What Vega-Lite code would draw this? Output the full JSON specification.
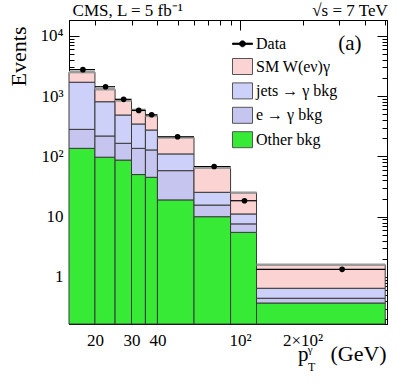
{
  "$schema": "https://vega.github.io/schema/vega-lite/v6.json",
  "width": 318,
  "height": 304,
  "autosize": {"type": "none"},
  "padding": {"left": 69, "top": 20, "right": 20, "bottom": 67},
  "background": "white",
  "config": {
    "view": {"stroke": null},
    "font": "Liberation Serif",
    "axis": {"domainColor": "black", "tickColor": "black", "labelColor": "black", "labelFont": "Liberation Serif", "titleFont": "Liberation Serif", "grid": false, "domainWidth": 1, "tickWidth": 1, "zindex": 1}
  },
  "datasets": {
    "mc": [
      {"lo": 15, "hi": 20, "component": "Other bkg", "order": 1, "events": 136},
      {"lo": 15, "hi": 20, "component": "e → γ bkg", "order": 2, "events": 145},
      {"lo": 15, "hi": 20, "component": "jets → γ bkg", "order": 3, "events": 1419},
      {"lo": 15, "hi": 20, "component": "SM W(eν)γ", "order": 4, "events": 800},
      {"lo": 20, "hi": 25, "component": "Other bkg", "order": 1, "events": 97},
      {"lo": 20, "hi": 25, "component": "e → γ bkg", "order": 2, "events": 121},
      {"lo": 20, "hi": 25, "component": "jets → γ bkg", "order": 3, "events": 589},
      {"lo": 20, "hi": 25, "component": "SM W(eν)γ", "order": 4, "events": 493},
      {"lo": 25, "hi": 30, "component": "Other bkg", "order": 1, "events": 87},
      {"lo": 25, "hi": 30, "component": "e → γ bkg", "order": 2, "events": 78},
      {"lo": 25, "hi": 30, "component": "jets → γ bkg", "order": 3, "events": 321},
      {"lo": 25, "hi": 30, "component": "SM W(eν)γ", "order": 4, "events": 359},
      {"lo": 30, "hi": 35, "component": "Other bkg", "order": 1, "events": 50},
      {"lo": 30, "hi": 35, "component": "e → γ bkg", "order": 2, "events": 86},
      {"lo": 30, "hi": 35, "component": "jets → γ bkg", "order": 3, "events": 209},
      {"lo": 30, "hi": 35, "component": "SM W(eν)γ", "order": 4, "events": 245},
      {"lo": 35, "hi": 40, "component": "Other bkg", "order": 1, "events": 45},
      {"lo": 35, "hi": 40, "component": "e → γ bkg", "order": 2, "events": 83},
      {"lo": 35, "hi": 40, "component": "jets → γ bkg", "order": 3, "events": 146},
      {"lo": 35, "hi": 40, "component": "SM W(eν)γ", "order": 4, "events": 196},
      {"lo": 40, "hi": 60, "component": "Other bkg", "order": 1, "events": 19},
      {"lo": 40, "hi": 60, "component": "e → γ bkg", "order": 2, "events": 39},
      {"lo": 40, "hi": 60, "component": "jets → γ bkg", "order": 3, "events": 52},
      {"lo": 40, "hi": 60, "component": "SM W(eν)γ", "order": 4, "events": 96},
      {"lo": 60, "hi": 90, "component": "Other bkg", "order": 1, "events": 10},
      {"lo": 60, "hi": 90, "component": "e → γ bkg", "order": 2, "events": 5.6},
      {"lo": 60, "hi": 90, "component": "jets → γ bkg", "order": 3, "events": 9.8},
      {"lo": 60, "hi": 90, "component": "SM W(eν)γ", "order": 4, "events": 39.6},
      {"lo": 90, "hi": 120, "component": "Other bkg", "order": 1, "events": 5.5},
      {"lo": 90, "hi": 120, "component": "e → γ bkg", "order": 2, "events": 2.1},
      {"lo": 90, "hi": 120, "component": "jets → γ bkg", "order": 3, "events": 3.5},
      {"lo": 90, "hi": 120, "component": "SM W(eν)γ", "order": 4, "events": 13.9},
      {"lo": 120, "hi": 500, "component": "Other bkg", "order": 1, "events": 0.37},
      {"lo": 120, "hi": 500, "component": "e → γ bkg", "order": 2, "events": 0.074},
      {"lo": 120, "hi": 500, "component": "jets → γ bkg", "order": 3, "events": 0.206},
      {"lo": 120, "hi": 500, "component": "SM W(eν)γ", "order": 4, "events": 0.95}
    ],
    "obs": [
      {"label": "Data", "lo": 15, "hi": 20, "pt": 17.5, "events": 2750},
      {"label": "Data", "lo": 20, "hi": 25, "pt": 22.5, "events": 1430},
      {"label": "Data", "lo": 25, "hi": 30, "pt": 27.5, "events": 885},
      {"label": "Data", "lo": 30, "hi": 35, "pt": 32.5, "events": 580},
      {"label": "Data", "lo": 35, "hi": 40, "pt": 37.5, "events": 490},
      {"label": "Data", "lo": 40, "hi": 60, "pt": 50, "events": 212},
      {"label": "Data", "lo": 60, "hi": 90, "pt": 75, "events": 68},
      {"label": "Data", "lo": 90, "hi": 120, "pt": 105, "events": 18.4},
      {"label": "Data", "lo": 120, "hi": 500, "pt": 310, "events": 1.34}
    ]
  },
  "layer": [
    {
      "data": {"name": "mc"},
      "transform": [
        {"stack": "events", "groupby": ["lo"], "sort": [{"field": "order", "order": "ascending"}], "as": ["s0", "s1"]},
        {"filter": "datum.order == 1"}
      ],
      "mark": {"type": "rect", "stroke": "#3a3a3a", "strokeWidth": 1},
      "encoding": {
        "x": {"field": "lo", "type": "quantitative", "scale": {"type": "log", "domain": [15, 510], "nice": false},
          "axis": {"orient": "bottom", "values": [20, 30, 40, 100, 200], "tickSize": -5, "labelFontSize": 17, "labelPadding": 13, "labelFlush": false, "labelOverlap": false, "title": null, "labelExpr": "datum.value == 100 ? '10²' : datum.value == 200 ? '2×10²' : format(datum.value, 'd')"}},
        "x2": {"field": "hi"},
        "y": {"field": "s1", "type": "quantitative", "scale": {"type": "log", "domain": [0.166, 18300], "nice": false},
          "axis": {"orient": "left", "values": [1, 10, 100, 1000, 10000], "tickSize": -10, "labelFontSize": 17, "labelPadding": 16, "labelFlush": false, "labelOverlap": false, "labelExpr": "datum.value == 100 ? '10²' : datum.value == 1000 ? '10³' : datum.value == 10000 ? '10⁴' : format(datum.value, 'd')",
            "title": "Events", "titleFontSize": 22, "titleFontWeight": "normal", "titleColor": "black", "titleAngle": 270, "titleAlign": "right", "titleAnchor": "end", "titleBaseline": "alphabetic", "titleX": -44, "titleY": 6}},
        "y2": {"datum": 0.166},
        "color": {"field": "component", "type": "nominal",
          "scale": {"domain": ["SM W(eν)γ", "jets → γ bkg", "e → γ bkg", "Other bkg"], "range": ["#fbd3d3", "#cdd0f8", "#c5c5ef", "#36ea36"]},
          "legend": {"orient": "none", "legendX": 163, "legendY": 36, "title": null, "symbolType": "M-1,-0.8H1V0.8H-1Z", "symbolSize": 400, "labelFontSize": 16, "labelFont": "Liberation Serif", "labelColor": "black", "rowPadding": 3.4, "labelOffset": 3, "padding": 0, "symbolStrokeColor": "#555555", "symbolStrokeWidth": 1,
            "encode": {"symbols": {"update": {"stroke": {"value": "#555555"}, "strokeWidth": {"value": 1}, "opacity": {"value": 1}}}}}}
      }
    },
    {
      "data": {"name": "mc"},
      "transform": [
        {"stack": "events", "groupby": ["lo"], "sort": [{"field": "order", "order": "ascending"}], "as": ["s0", "s1"]},
        {"filter": "datum.order == 2"}
      ],
      "mark": {"type": "rect", "stroke": "#3a3a3a", "strokeWidth": 1},
      "encoding": {
        "x": {"field": "lo", "type": "quantitative", "scale": {"type": "log", "domain": [15, 510], "nice": false},
          "axis": {"orient": "bottom", "values": [100], "tickSize": -10, "labels": false, "title": null}},
        "x2": {"field": "hi"},
        "y": {"field": "s1", "type": "quantitative", "scale": {"type": "log", "domain": [0.166, 18300], "nice": false},
          "axis": {"orient": "left", "values": [0.2, 0.3, 0.4, 0.5, 0.6, 0.7, 0.8, 0.9, 2, 3, 4, 5, 6, 7, 8, 9, 20, 30, 40, 50, 60, 70, 80, 90, 200, 300, 400, 500, 600, 700, 800, 900, 2000, 3000, 4000, 5000, 6000, 7000, 8000, 9000], "tickSize": -5, "labels": false, "title": null}},
        "y2": {"field": "s0"},
        "color": {"field": "component", "type": "nominal",
          "scale": {"domain": ["SM W(eν)γ", "jets → γ bkg", "e → γ bkg", "Other bkg"], "range": ["#fbd3d3", "#cdd0f8", "#c5c5ef", "#36ea36"]}}
      }
    },
    {
      "data": {"name": "mc"},
      "transform": [
        {"stack": "events", "groupby": ["lo"], "sort": [{"field": "order", "order": "ascending"}], "as": ["s0", "s1"]},
        {"filter": "datum.order == 3"}
      ],
      "mark": {"type": "rect", "stroke": "#3a3a3a", "strokeWidth": 1},
      "encoding": {
        "x": {"field": "lo", "type": "quantitative", "scale": {"type": "log", "domain": [15, 510], "nice": false},
          "axis": {"orient": "top", "values": [100], "tickSize": -10, "labels": false, "title": null}},
        "x2": {"field": "hi"},
        "y": {"field": "s1", "type": "quantitative", "scale": {"type": "log", "domain": [0.166, 18300], "nice": false},
          "axis": {"orient": "right", "values": [1, 10, 100, 1000, 10000], "tickSize": -10, "labels": false, "title": null}},
        "y2": {"field": "s0"},
        "color": {"field": "component", "type": "nominal",
          "scale": {"domain": ["SM W(eν)γ", "jets → γ bkg", "e → γ bkg", "Other bkg"], "range": ["#fbd3d3", "#cdd0f8", "#c5c5ef", "#36ea36"]}}
      }
    },
    {
      "data": {"name": "mc"},
      "transform": [
        {"stack": "events", "groupby": ["lo"], "sort": [{"field": "order", "order": "ascending"}], "as": ["s0", "s1"]},
        {"filter": "datum.order == 4"}
      ],
      "mark": {"type": "rect", "stroke": "#3a3a3a", "strokeWidth": 1},
      "encoding": {
        "x": {"field": "lo", "type": "quantitative", "scale": {"type": "log", "domain": [15, 510], "nice": false},
          "axis": {"orient": "top", "values": [20, 30, 40, 50, 60, 70, 80, 90, 200, 300, 400, 500], "tickSize": -5, "labels": false, "title": null}},
        "x2": {"field": "hi"},
        "y": {"field": "s1", "type": "quantitative", "scale": {"type": "log", "domain": [0.166, 18300], "nice": false},
          "axis": {"orient": "right", "values": [0.2, 0.3, 0.4, 0.5, 0.6, 0.7, 0.8, 0.9, 2, 3, 4, 5, 6, 7, 8, 9, 20, 30, 40, 50, 60, 70, 80, 90, 200, 300, 400, 500, 600, 700, 800, 900, 2000, 3000, 4000, 5000, 6000, 7000, 8000, 9000], "tickSize": -5, "labels": false, "title": null}},
        "y2": {"field": "s0"},
        "color": {"field": "component", "type": "nominal",
          "scale": {"domain": ["SM W(eν)γ", "jets → γ bkg", "e → γ bkg", "Other bkg"], "range": ["#fbd3d3", "#cdd0f8", "#c5c5ef", "#36ea36"]}}
      }
    },
    {
      "data": {"name": "mc"},
      "transform": [
        {"stack": "events", "groupby": ["lo"], "sort": [{"field": "order", "order": "ascending"}], "as": ["s0", "s1"]},
        {"filter": "datum.order == 4"}
      ],
      "mark": {"type": "rule", "stroke": "#9a9a9a", "strokeWidth": 2.5},
      "encoding": {
        "x": {"field": "lo", "type": "quantitative", "scale": {"type": "log", "domain": [15, 510], "nice": false},
          "axis": {"orient": "bottom", "values": [20, 30, 40, 50, 60, 70, 80, 90, 200, 300, 400, 500], "tickSize": -5, "labels": false, "title": null}},
        "x2": {"field": "hi"},
        "y": {"field": "s1", "type": "quantitative", "scale": {"type": "log", "domain": [0.166, 18300], "nice": false}, "axis": null}
      }
    },
    {
      "data": {"name": "obs"},
      "mark": {"type": "rule", "stroke": "black", "strokeWidth": 1.2},
      "encoding": {
        "x": {"field": "lo", "type": "quantitative", "scale": {"type": "log", "domain": [15, 510], "nice": false}, "axis": null},
        "x2": {"field": "hi"},
        "y": {"field": "events", "type": "quantitative", "scale": {"type": "log", "domain": [0.166, 18300], "nice": false}, "axis": null}
      }
    },
    {
      "data": {"name": "obs"},
      "mark": {"type": "point", "filled": true, "size": 32, "opacity": 1, "shape": "circle"},
      "encoding": {
        "x": {"field": "pt", "type": "quantitative", "scale": {"type": "log", "domain": [15, 510], "nice": false}, "axis": null},
        "y": {"field": "events", "type": "quantitative", "scale": {"type": "log", "domain": [0.166, 18300], "nice": false}, "axis": null},
        "fill": {"field": "label", "type": "nominal", "scale": {"domain": ["Data"], "range": ["black"]},
          "legend": {"orient": "none", "legendX": 163, "legendY": 13.3, "title": null, "symbolType": "M-1,-0.07H1V0.07H-1Z M-0.3,0A0.3,0.3,0,1,1,0.3,0A0.3,0.3,0,1,1,-0.3,0Z", "symbolSize": 400, "labelFontSize": 16, "labelFont": "Liberation Serif", "labelColor": "black", "labelOffset": 3, "padding": 0, "symbolStrokeColor": "black", "symbolStrokeWidth": 0.8,
            "encode": {"symbols": {"update": {"stroke": {"value": "black"}, "strokeWidth": {"value": 0.8}, "fill": {"value": "black"}, "opacity": {"value": 1}}}}}}
      }
    },
    {
      "data": {"values": [{}]},
      "mark": {"type": "text", "text": "CMS, L = 5 fb⁻¹", "align": "left", "baseline": "alphabetic", "fontSize": 17, "font": "Liberation Serif", "color": "black"},
      "encoding": {
        "x": {"datum": 15.6, "type": "quantitative", "scale": {"type": "log", "domain": [15, 510], "nice": false}, "axis": null},
        "y": {"datum": 21300, "type": "quantitative", "scale": {"type": "log", "domain": [0.166, 18300], "nice": false}, "axis": null}
      }
    },
    {
      "data": {"values": [{}]},
      "mark": {"type": "text", "text": "√s = 7 TeV", "align": "right", "baseline": "alphabetic", "fontSize": 17, "font": "Liberation Serif", "color": "black"},
      "encoding": {
        "x": {"datum": 514, "type": "quantitative", "scale": {"type": "log", "domain": [15, 510], "nice": false}, "axis": null},
        "y": {"datum": 21300, "type": "quantitative", "scale": {"type": "log", "domain": [0.166, 18300], "nice": false}, "axis": null}
      }
    },
    {
      "data": {"values": [{}]},
      "mark": {"type": "text", "text": "(a)", "align": "center", "baseline": "alphabetic", "fontSize": 21, "font": "Liberation Serif", "color": "black"},
      "encoding": {
        "x": {"datum": 338, "type": "quantitative", "scale": {"type": "log", "domain": [15, 510], "nice": false}, "axis": null},
        "y": {"datum": 5890, "type": "quantitative", "scale": {"type": "log", "domain": [0.166, 18300], "nice": false}, "axis": null}
      }
    },
    {
      "data": {"values": [{}]},
      "mark": {"type": "text", "text": "p", "align": "left", "baseline": "alphabetic", "fontSize": 21, "font": "Liberation Serif", "color": "black"},
      "encoding": {
        "x": {"datum": 190, "type": "quantitative", "scale": {"type": "log", "domain": [15, 510], "nice": false}, "axis": null},
        "y": {"datum": 0.0398, "type": "quantitative", "scale": {"type": "log", "domain": [0.166, 18300], "nice": false}, "axis": null}
      }
    },
    {
      "data": {"values": [{}]},
      "mark": {"type": "text", "text": "γ", "align": "left", "baseline": "alphabetic", "fontSize": 11, "font": "Liberation Serif", "color": "black"},
      "encoding": {
        "x": {"datum": 212, "type": "quantitative", "scale": {"type": "log", "domain": [15, 510], "nice": false}, "axis": null},
        "y": {"datum": 0.0549, "type": "quantitative", "scale": {"type": "log", "domain": [0.166, 18300], "nice": false}, "axis": null}
      }
    },
    {
      "data": {"values": [{}]},
      "mark": {"type": "text", "text": "T", "align": "left", "baseline": "alphabetic", "fontSize": 12, "font": "Liberation Serif", "color": "black"},
      "encoding": {
        "x": {"datum": 212.6, "type": "quantitative", "scale": {"type": "log", "domain": [15, 510], "nice": false}, "axis": null},
        "y": {"datum": 0.0279, "type": "quantitative", "scale": {"type": "log", "domain": [0.166, 18300], "nice": false}, "axis": null}
      }
    },
    {
      "data": {"values": [{}]},
      "mark": {"type": "text", "text": "(GeV)", "align": "right", "baseline": "alphabetic", "fontSize": 22, "font": "Liberation Serif", "color": "black"},
      "encoding": {
        "x": {"datum": 508, "type": "quantitative", "scale": {"type": "log", "domain": [15, 510], "nice": false}, "axis": null},
        "y": {"datum": 0.0398, "type": "quantitative", "scale": {"type": "log", "domain": [0.166, 18300], "nice": false}, "axis": null}
      }
    }
  ],
  "resolve": {"scale": {"x": "shared", "y": "shared"}, "axis": {"x": "independent", "y": "independent"}}
}
